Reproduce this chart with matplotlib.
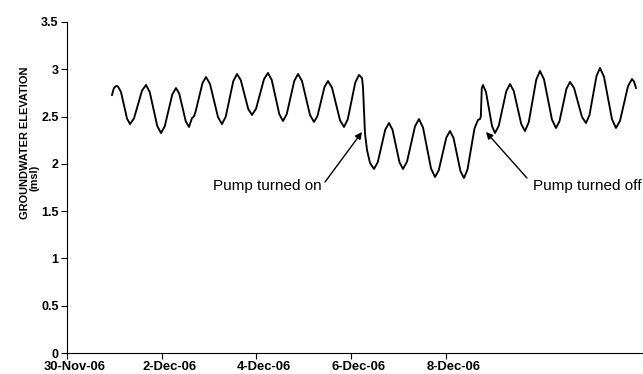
import numpy as np
import pandas as pd
import matplotlib
matplotlib.use("Agg")
import matplotlib.pyplot as plt

plt.rcParams['font.family'] = ['Liberation Sans', 'DejaVu Sans']

# days since 30-Nov-06 00:00 and groundwater elevation (msl)
days = [
    0.950, 0.990, 1.035, 1.075, 1.139, 1.203, 1.267, 1.331,
    1.415, 1.500, 1.584, 1.668, 1.747, 1.827, 1.906, 1.985,
    2.064, 2.144, 2.223, 2.302, 2.371, 2.440, 2.508, 2.577,
    2.640, 2.680, 2.714, 2.788, 2.862, 2.936, 3.020, 3.105,
    3.189, 3.273, 3.352, 3.432, 3.511, 3.590, 3.669, 3.749,
    3.828, 3.907, 3.992, 4.076, 4.161, 4.245, 4.324, 4.404,
    4.483, 4.562, 4.641, 4.721, 4.800, 4.879, 4.963, 5.048,
    5.132, 5.216, 5.290, 5.364, 5.438, 5.512, 5.597, 5.681,
    5.766, 5.850, 5.929, 6.009, 6.088, 6.167, 6.230, 6.251,
    6.293, 6.336, 6.399, 6.484, 6.563, 6.642, 6.721, 6.800,
    6.874, 6.948, 7.022, 7.096, 7.181, 7.265, 7.350, 7.434,
    7.519, 7.603, 7.688, 7.772, 7.851, 7.931, 8.010, 8.089,
    8.163, 8.237, 8.310, 8.384, 8.458, 8.532, 8.606, 8.680,
    8.722, 8.740, 8.760, 8.786, 8.849, 8.913, 8.976, 9.039,
    9.118, 9.198, 9.277, 9.356, 9.435, 9.515, 9.594, 9.673,
    9.752, 9.831, 9.910, 9.989, 10.074, 10.158, 10.243, 10.327,
    10.401, 10.475, 10.549, 10.623, 10.708, 10.792, 10.877, 10.961,
    11.035, 11.109, 11.183, 11.257, 11.341, 11.426, 11.510, 11.594,
    11.679, 11.763, 11.848, 11.932, 11.975, 12.017,
]
elevation = [
    2.728, 2.800, 2.823, 2.820, 2.762, 2.620, 2.479, 2.421,
    2.481, 2.628, 2.774, 2.834, 2.760, 2.580, 2.400, 2.326,
    2.396, 2.564, 2.733, 2.802, 2.742, 2.596, 2.450, 2.390,
    2.485, 2.500, 2.548, 2.700, 2.855, 2.918, 2.845, 2.670,
    2.494, 2.421, 2.498, 2.686, 2.873, 2.950, 2.887, 2.734,
    2.580, 2.517, 2.582, 2.739, 2.896, 2.961, 2.887, 2.707,
    2.527, 2.453, 2.526, 2.702, 2.877, 2.950, 2.876, 2.697,
    2.517, 2.443, 2.506, 2.660, 2.813, 2.876, 2.805, 2.633,
    2.461, 2.390, 2.470, 2.665, 2.860, 2.940, 2.908, 2.813,
    2.326, 2.147, 2.009, 1.946, 2.017, 2.189, 2.361, 2.432,
    2.361, 2.189, 2.017, 1.946, 2.023, 2.210, 2.397, 2.474,
    2.384, 2.168, 1.951, 1.861, 1.932, 2.104, 2.276, 2.347,
    2.274, 2.099, 1.923, 1.850, 1.940, 2.157, 2.374, 2.464,
    2.474, 2.500, 2.800, 2.834, 2.760, 2.580, 2.400, 2.326,
    2.402, 2.585, 2.768, 2.844, 2.771, 2.596, 2.420, 2.347,
    2.440, 2.665, 2.889, 2.982, 2.894, 2.681, 2.467, 2.379,
    2.450, 2.623, 2.795, 2.866, 2.803, 2.649, 2.495, 2.432,
    2.517, 2.723, 2.929, 3.014, 2.921, 2.697, 2.472, 2.379,
    2.455, 2.638, 2.821, 2.897, 2.870, 2.802,
]

start = pd.Timestamp("2006-11-30")
tick_dates = ["2006-11-30", "2006-12-02", "2006-12-04", "2006-12-06", "2006-12-08"]
tick_labels = ["30-Nov-06", "2-Dec-06", "4-Dec-06", "6-Dec-06", "8-Dec-06"]
y_ticks = [0, 0.5, 1, 1.5, 2, 2.5, 3, 3.5]
y_tick_labels = ["0", "0.5", "1", "1.5", "2", "2.5", "3", "3.5"]

# pump events: label, arrow tip (day, m), arrow tail (day, m), text anchor (day, m)
events = [
    ("Pump turned on", (6.230, 2.337), (5.449, 1.808), (5.385, 1.724), "right"),
    ("Pump turned off", (8.849, 2.337), (9.715, 1.850), (9.842, 1.724), "left"),
]


def when(d):
    return start + pd.Timedelta(days=d)


t = start + pd.to_timedelta(np.array(days), unit="D")
marks = pd.to_datetime(tick_dates)

fig = plt.figure(figsize=(6.43, 3.74), dpi=100)
ax = fig.add_axes([0.1042, 0.0561, 0.8958, 0.8851])

ax.plot(t, elevation, color="black", lw=1.35)

ax.set_ylim(0, 3.5)
ax.set_xlim(start, when(12.165))
ax.set_yticks(y_ticks)
ax.set_yticklabels(y_tick_labels, fontsize=9.0, fontweight="bold")

# tick marks on the dates, labels centred a few hours later
ax.set_xticks(marks, minor=True)
ax.set_xticks(marks + pd.Timedelta(hours=4))
ax.set_xticklabels(tick_labels, fontsize=9.4, fontweight="bold")
ax.tick_params(axis="x", which="major", length=0, pad=6)
ax.tick_params(axis="x", which="minor", length=4, width=0.8, direction="out")

ax.spines["top"].set_visible(False)
ax.spines["right"].set_visible(False)
ax.spines["left"].set_linewidth(0.8)
ax.spines["bottom"].set_linewidth(0.8)
ax.tick_params(axis="y", direction="out", length=4, width=0.8, pad=2, colors="black")

fig.text(25 / 643, 1 - 142.5 / 374, "GROUNDWATER ELEVATION", rotation=90,
         ha="center", va="center", fontsize=7.9, fontweight="bold")
fig.text(34 / 643, 1 - 178 / 374, "(msl)", rotation=90,
         ha="center", va="center", fontsize=7.9, fontweight="bold")

for label, tip, tail, pos, ha in events:
    ax.annotate("", xy=(when(tip[0]), tip[1]), xytext=(when(tail[0]), tail[1]),
                arrowprops=dict(arrowstyle="-|>", color="black", lw=1.0,
                                mutation_scale=10, shrinkA=0, shrinkB=0))
    ax.text(when(pos[0]), pos[1], label, fontsize=11, ha=ha, va="baseline")

fig.savefig("out.png", dpi=100)
